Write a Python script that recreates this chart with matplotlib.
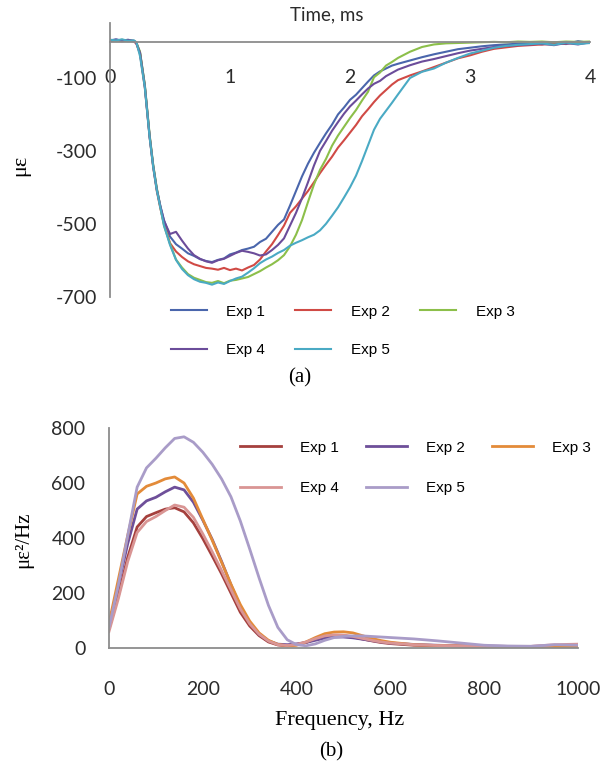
import matplotlib.pyplot as plt

plt.rcParams['axes.unicode_minus'] = False

# ---- (a) strain vs time ----
time_ms = [0, 0.05, 0.1, 0.15, 0.2, 0.22, 0.25, 0.29, 0.33, 0.36, 0.39, 0.42, 0.45,
           0.5, 0.55, 0.6, 0.65, 0.7, 0.75, 0.8, 0.85, 0.9, 0.95, 1.0, 1.05, 1.1, 1.15,
           1.2, 1.25, 1.3, 1.35, 1.4, 1.45, 1.5, 1.55, 1.6, 1.65, 1.7, 1.75, 1.8, 1.85,
           1.9, 1.95, 2.0, 2.05, 2.1, 2.15, 2.2, 2.25, 2.3, 2.35, 2.4,
           2.5, 2.6, 2.7, 2.8, 2.9, 3.0, 3.1, 3.2, 3.3, 3.4, 3.5, 3.6, 3.7, 3.8, 3.9, 4.0]

exp1_strain = [3, 6, 2, 5, 1, -4, -30, -120, -258, -340, -405, -452, -490,
               -535, -556, -568, -581, -588, -597, -602, -605, -599, -595, -584, -579, -572, -568,
               -563, -550, -541, -522, -503, -488, -450, -410, -370, -335, -305, -278, -252, -228,
               -200, -181, -160, -146, -128, -110, -93, -82, -74, -66, -61,
               -52, -43, -35, -28, -21, -17, -13, -10, -8, -6, -4, -8, -2, -7, 1, -4]
exp2_strain = [2, 4, 1, 3, 0, -6, -34, -126, -262, -345, -410, -458, -500,
               -553, -576, -591, -603, -611, -616, -621, -623, -626, -621, -627, -623, -628, -620,
               -613, -598, -576, -556, -531, -505, -470, -452, -431, -410, -386, -361, -338, -316,
               -291, -271, -250, -229, -205, -186, -166, -148, -133, -118, -106,
               -93, -82, -70, -58, -46, -38, -28, -20, -16, -12, -10, -8, -7, -5, -4, -4]
exp3_strain = [4, 2, 5, 1, 2, -3, -28, -118, -255, -338, -402, -455, -505,
               -555, -598, -620, -638, -648, -654, -660, -662, -657, -663, -656, -654, -650, -646,
               -638, -630, -620, -611, -600, -586, -562, -530, -490, -440, -392, -352, -322, -286,
               -258, -234, -210, -188, -162, -138, -98, -85, -66, -56, -45,
               -28, -15, -8, -5, -4, -3, -2, -1, -2, 0, -1, 0, -2, 0, -1, 0]
exp4_strain = [2, 5, 3, 4, 2, -5, -31, -122, -260, -342, -406, -452, -492,
               -528, -522, -546, -568, -586, -596, -603, -607, -600, -596, -588, -580, -574, -577,
               -581, -587, -584, -572, -558, -540, -505, -470, -430, -386, -340, -300, -273, -245,
               -221, -198, -178, -162, -145, -129, -116, -108, -95, -86, -77,
               -65, -55, -48, -40, -32, -25, -20, -15, -12, -10, -8, -6, -10, -4, -8, -2]
exp5_strain = [5, 3, 6, 2, 3, -2, -40, -125, -262, -344, -408, -456, -505,
               -558, -599, -624, -641, -652, -659, -662, -667, -661, -665, -657, -650, -645, -634,
               -622, -608, -598, -590, -580, -572, -560, -552, -545, -537, -530, -518, -500, -478,
               -455, -428, -400, -368, -328, -285, -242, -212, -190, -168, -145,
               -100, -83, -74, -58, -45, -33, -25, -17, -12, -9, -7, -5, -9, -3, -7, -4]

strain_series = [exp1_strain, exp2_strain, exp3_strain, exp4_strain, exp5_strain]
strain_colors = ['#4A66AC', '#D04A45', '#8CBF4A', '#6B4C9A', '#4AAAC4']

# ---- (b) PSD vs frequency ----
freq_hz = [0, 20, 40, 60, 80, 100, 120, 140, 160, 180, 200, 220, 240, 260, 280, 300, 320, 340,
           360, 380, 400, 420, 440, 460, 480, 500, 520, 540, 560, 580, 600, 650, 700, 750, 800,
           850, 900, 950, 1000]

exp1_psd = [70, 190, 330, 440, 478, 492, 505, 510, 495, 455, 398, 335, 270, 200, 130, 80, 45, 22,
            11, 8, 12, 20, 32, 42, 46, 45, 40, 33, 26, 20, 16, 10, 8, 7, 6, 5, 5, 6, 5]
exp2_psd = [80, 230, 380, 505, 535, 548, 568, 585, 575, 530, 465, 395, 315, 230, 150, 92, 50, 26,
            14, 12, 15, 20, 28, 36, 40, 40, 37, 32, 27, 22, 18, 13, 10, 8, 7, 6, 6, 8, 8]
exp3_psd = [90, 250, 410, 560, 588, 600, 615, 622, 600, 545, 468, 392, 312, 232, 158, 98, 55, 28,
            13, 8, 10, 22, 38, 52, 58, 59, 55, 45, 35, 27, 21, 12, 9, 8, 6, 5, 5, 5, 4]
exp4_psd = [60, 180, 315, 420, 460, 478, 500, 520, 512, 475, 415, 350, 282, 212, 142, 88, 50, 25,
            12, 9, 13, 22, 34, 44, 48, 47, 42, 35, 28, 22, 18, 12, 9, 8, 7, 6, 6, 12, 14]
exp5_psd = [75, 230, 410, 585, 655, 690, 728, 762, 768, 748, 712, 668, 615, 550, 462, 360, 255, 155,
            75, 30, 12, 8, 15, 28, 38, 42, 44, 44, 42, 40, 38, 33, 26, 18, 10, 7, 6, 12, 10]

psd_series = [exp1_psd, exp2_psd, exp3_psd, exp4_psd, exp5_psd]
psd_colors = ['#A5403D', '#6E4F99', '#E38B39', '#D99594', '#A99CC8']

labels = ['Exp 1', 'Exp 2', 'Exp 3', 'Exp 4', 'Exp 5']
order = [0, 3, 1, 4, 2]  # so the legend reads row-wise: 1 2 3 / 4 5

W, H = 605, 769
fig = plt.figure(figsize=(W / 100, H / 100), dpi=100)
axis_grey = '#8C8C8C'
tick_font = dict(family='Lato', size=14, color='#2B2B2B')

# ---------- panel (a) ----------
ax1 = fig.add_axes([110 / W, 1 - 296.7 / H, 480 / W, 273.4 / H])
lines1 = []
for vals, col, lab in zip(strain_series, strain_colors, labels):
    ln, = ax1.plot(time_ms, vals, color=col, lw=1.5, label=lab)
    lines1.append(ln)
ax1.set_xlim(0, 4)
ax1.set_ylim(-700, 50)
ax1.set_xticks([0, 1, 2, 3, 4])
ax1.set_yticks([-100, -300, -500, -700])
for s in ['top', 'right']:
    ax1.spines[s].set_visible(False)
ax1.spines['bottom'].set_position(('data', 0))
for s in ['left', 'bottom']:
    ax1.spines[s].set_color(axis_grey)
    ax1.spines[s].set_linewidth(1.3)
ax1.tick_params(axis='x', length=0, pad=20)
ax1.tick_params(axis='y', length=0, pad=9)
for t in ax1.get_xticklabels() + ax1.get_yticklabels():
    t.set(**tick_font)

fig.text(327 / W, 1 - 15 / H, 'Time, ms', ha='center', va='center',
         family='Lato', size=13.5, color='#2B2B2B')
fig.text(21 / W, 1 - 165 / H, 'με', ha='center', va='center', rotation=90,
         family='Liberation Serif', size=16)
fig.text(300 / W, 1 - 378 / H, '(a)', ha='center', va='center',
         family='Liberation Serif', size=15)

ax1.legend([lines1[i] for i in order], [labels[i] for i in order], ncol=3,
           loc='upper left', bbox_to_anchor=(163 / W, 1 - 297 / H),
           bbox_transform=fig.transFigure, frameon=False, borderpad=0,
           prop=dict(family='Liberation Sans', size=11),
           handlelength=2.35, handletextpad=1.3, columnspacing=1.96, labelspacing=1.6)

# ---------- panel (b) ----------
ax2 = fig.add_axes([109 / W, 1 - 648 / H, 469 / W, 220 / H])
lines2 = []
for vals, col, lab in zip(psd_series, psd_colors, labels):
    ln, = ax2.plot(freq_hz, vals, color=col, lw=2, label=lab)
    lines2.append(ln)
ax2.set_xlim(0, 1000)
ax2.set_ylim(0, 800)
ax2.set_xticks([0, 200, 400, 600, 800, 1000])
ax2.set_yticks([0, 200, 400, 600, 800])
for s in ['top', 'right']:
    ax2.spines[s].set_visible(False)
for s in ['left', 'bottom']:
    ax2.spines[s].set_color(axis_grey)
    ax2.spines[s].set_linewidth(1.3)
ax2.tick_params(axis='x', length=0, pad=24)
ax2.tick_params(axis='y', length=0, pad=17)
for t in ax2.get_xticklabels() + ax2.get_yticklabels():
    t.set(**tick_font)

fig.text(340 / W, 1 - 720 / H, 'Frequency, Hz', ha='center', va='center',
         family='Liberation Serif', size=16)
fig.text(24 / W, 1 - 540 / H, 'με²/Hz', ha='center', va='center', rotation=90,
         family='Liberation Serif', size=15)
fig.text(331 / W, 1 - 752 / H, '(b)', ha='center', va='center',
         family='Liberation Serif', size=15)

ax2.legend([lines2[i] for i in order], [labels[i] for i in order], ncol=3,
           loc='upper left', bbox_to_anchor=(232 / W, 1 - 433 / H),
           bbox_transform=fig.transFigure, frameon=False, borderpad=0,
           prop=dict(family='Liberation Sans', size=11),
           handlelength=2.7, handletextpad=1.25, columnspacing=1.76, labelspacing=1.75)

fig.savefig('out.png', dpi=100, facecolor='white')
